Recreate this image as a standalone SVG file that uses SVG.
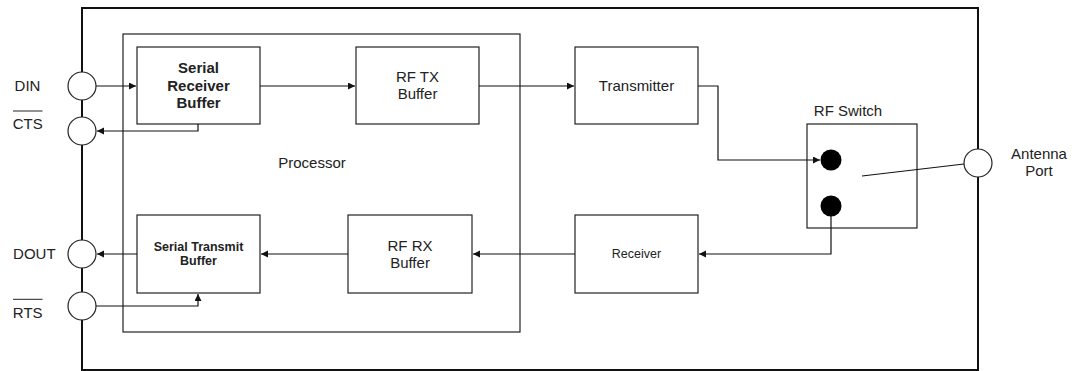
<svg xmlns="http://www.w3.org/2000/svg" width="1079" height="371" viewBox="0 0 1079 371">
<style>
.box{fill:#fff;stroke:#222;stroke-width:1.2}
.port{fill:#fff;stroke:#222;stroke-width:1.2}
.t{font-family:"Liberation Sans",Arial,sans-serif;font-size:15px;fill:#222;text-anchor:middle}
.b{font-weight:bold}
.c{fill:none;stroke:#111;stroke-width:1.2}
</style>
<defs>
<marker id="ah" markerUnits="userSpaceOnUse" markerWidth="8" markerHeight="8" refX="7" refY="3.5" orient="auto">
<path d="M0,0 L7,3.5 L0,7 z" fill="#111"/>
</marker>
</defs>
<rect width="1079" height="371" fill="#fff"/>
<g id="frame">
<rect x="82" y="8" width="896" height="362" fill="none" stroke="#111" stroke-width="2"/>
</g>
<g id="processor">
<rect x="123" y="34" width="397" height="298" fill="none" stroke="#222" stroke-width="1.2"/>
<text class="t" x="312" y="168">Processor</text>
</g>
<g id="srb">
<rect class="box" x="137" y="47" width="123" height="77"/>
<text class="t b" x="198.5" y="72.7">Serial</text>
<text class="t b" x="198.5" y="90.7">Receiver</text>
<text class="t b" x="198.5" y="108.3">Buffer</text>
</g>
<g id="rftx">
<rect class="box" x="356" y="47" width="123" height="77"/>
<text class="t" x="417.5" y="81.7">RF TX</text>
<text class="t" x="417.5" y="99.3">Buffer</text>
</g>
<g id="transmitter">
<rect class="box" x="575" y="47" width="123" height="77"/>
<text class="t" x="636.5" y="90.7">Transmitter</text>
</g>
<g id="stb">
<rect class="box" x="137" y="215" width="123" height="78"/>
<text class="t b" x="198.5" y="251" style="font-size:12.5px">Serial Transmit</text>
<text class="t b" x="198.5" y="265" style="font-size:12.5px">Buffer</text>
</g>
<g id="rfrx">
<rect class="box" x="348" y="215" width="124" height="78"/>
<text class="t" x="410" y="250.7">RF RX</text>
<text class="t" x="410" y="268.3">Buffer</text>
</g>
<g id="receiver">
<rect class="box" x="575" y="215" width="123" height="78"/>
<text class="t" x="636.5" y="257.7" style="font-size:12.5px">Receiver</text>
</g>
<g id="rfswitch">
<rect class="box" x="807" y="124" width="110" height="104"/>
<text class="t" x="848" y="116">RF Switch</text>
<circle cx="831" cy="160" r="10.5" fill="#000"/>
<circle cx="831" cy="206" r="10.5" fill="#000"/>
</g>
<g id="connectors">
<path class="c" d="M96,86 H136" marker-end="url(#ah)"/>
<path class="c" d="M260,86 H355" marker-end="url(#ah)"/>
<path class="c" d="M479,86 H574" marker-end="url(#ah)"/>
<path class="c" d="M698,86 H718 V160 H820" marker-end="url(#ah)"/>
<path class="c" d="M198,124 V131 H97" marker-end="url(#ah)"/>
<path class="c" d="M831,216 V254 H699" marker-end="url(#ah)"/>
<path class="c" d="M575,254 H473" marker-end="url(#ah)"/>
<path class="c" d="M348,254 H261" marker-end="url(#ah)"/>
<path class="c" d="M137,254 H97" marker-end="url(#ah)"/>
<path class="c" d="M96,306 H198 V294" marker-end="url(#ah)"/>
<path class="c" d="M862,176 L964,164"/>
</g>
<g id="din">
<circle class="port" cx="82" cy="86" r="14"/>
<text class="t" x="27.5" y="90.7">DIN</text>
</g>
<g id="cts">
<circle class="port" cx="82" cy="131" r="14"/>
<text class="t" x="27.7" y="128.7">CTS</text>
<line x1="13" y1="111" x2="42.5" y2="111" stroke="#222" stroke-width="1"/>
</g>
<g id="dout">
<circle class="port" cx="82" cy="254" r="14"/>
<text class="t" x="34.3" y="259">DOUT</text>
</g>
<g id="rts">
<circle class="port" cx="82" cy="306" r="14"/>
<text class="t" x="27.7" y="318.3">RTS</text>
<line x1="13" y1="299.3" x2="42.5" y2="299.3" stroke="#222" stroke-width="1"/>
</g>
<g id="antenna">
<circle class="port" cx="978" cy="163" r="14"/>
<text class="t" x="1039" y="159">Antenna</text>
<text class="t" x="1039" y="176">Port</text>
</g>
</svg>
